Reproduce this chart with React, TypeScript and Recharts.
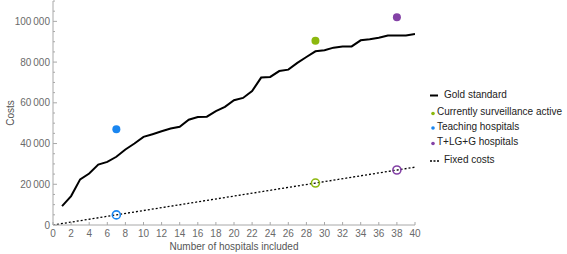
import {
    ComposedChart,
    Line,
    Scatter,
    XAxis,
    YAxis,
} from 'recharts';

// number of hospitals included
const hospitals = [
    1, 2, 3, 4, 5, 6, 7, 8, 9, 10, 11, 12, 13, 14, 15, 16, 17, 18, 19, 20,
    21, 22, 23, 24, 25, 26, 27, 28, 29, 30, 31, 32, 33, 34, 35, 36, 37, 38, 39, 40,
];
const goldCosts = [
    9300, 14200, 22400, 25300, 29700, 31000, 33500, 37100, 40000, 43300,
    44600, 46000, 47400, 48200, 51700, 53000, 53200, 55900, 58000, 61300,
    62400, 65800, 72400, 72700, 75600, 76300, 79600, 82500, 85300, 85800,
    87100, 87600, 87700, 90700, 91200, 92000, 93000, 93000, 93100, 93800,
];

const fixedHospitals = [0, 7, 29, 38, 40];
const fixedCosts = [0, 4970, 20600, 27000, 28400];

const surveillancePoint = { x: 29, total: 90500, fixed: 20600 };
const teachingPoint = { x: 7, total: 47000, fixed: 4970 };
const tlggPoint = { x: 38, total: 102000, fixed: 27000 };

const xTicks = [0, 2, 4, 6, 8, 10, 12, 14, 16, 18, 20, 22, 24, 26, 28, 30, 32, 34, 36, 38, 40];
const yTicks = [
    0, 5000, 10000, 15000, 20000, 25000, 30000, 35000, 40000, 45000, 50000,
    55000, 60000, 65000, 70000, 75000, 80000, 85000, 90000, 95000, 100000, 105000, 110000,
];

const GREEN = '#8cb80e';
const BLUE = '#1a86f0';
const PURPLE = '#8442a6';
const AXIS = '#a8a8a8';
const TICK_TEXT = '#6a6a6a';
const FONT = '"Liberation Sans", Arial, sans-serif';

const goldData = hospitals.map((h, i) => ({ x: h, y: goldCosts[i] }));
const fixedData = fixedHospitals.map((h, i) => ({ x: h, y: fixedCosts[i] }));

const formatThousands = (v: number) =>
    v >= 1000 ? `${Math.floor(v / 1000)}\u2009${String(v % 1000).padStart(3, '0')}` : String(v);

function YTick({ x, y, payload }: any) {
    const v = payload.value as number;
    const major = v % 20000 === 0 && v <= 100000;
    return (
        <g>
            <line x1={x} x2={x + (major ? 4 : 2)} y1={y} y2={y} stroke={AXIS} />
            {major && (
                <text x={x - 3} y={y + 3.5} textAnchor="end" fontSize={10} fill={TICK_TEXT} fontFamily={FONT}>
                    {formatThousands(v)}
                </text>
            )}
        </g>
    );
}

function XTick({ x, y, payload }: any) {
    return (
        <g>
            <line x1={x} x2={x} y1={y} y2={y - 3} stroke={AXIS} />
            <text x={x} y={y + 12} textAnchor="middle" fontSize={10} fill={TICK_TEXT} fontFamily={FONT}>
                {payload.value}
            </text>
        </g>
    );
}

const dot = (color: string) => (p: any) => <circle cx={p.cx} cy={p.cy} r={4} fill={color} />;
const ring = (color: string) => (p: any) =>
    <circle cx={p.cx} cy={p.cy} r={4} fill="none" stroke={color} strokeWidth={1.6} />;

// legend rows: marker kind, text x, row centre y
const legendRows = [
    { label: 'Gold standard', kind: 'line', color: '#000', tx: 444, cy: 94 },
    { label: 'Currently surveillance active', kind: 'dot', color: GREEN, tx: 437, cy: 111.5 },
    { label: 'Teaching hospitals', kind: 'dot', color: BLUE, tx: 437, cy: 126 },
    { label: 'T+LG+G hospitals', kind: 'dot', color: PURPLE, tx: 437, cy: 141.5 },
    { label: 'Fixed costs', kind: 'dash', color: '#000', tx: 444, cy: 159 },
];

function ChartLegend() {
    return (
        <svg width={567} height={254} style={{ position: 'absolute', left: 0, top: 0, pointerEvents: 'none' }}>
            {legendRows.map((r) => (
                <g key={r.label}>
                    {r.kind === 'line' && <line x1={430} x2={438} y1={r.cy + 1.5} y2={r.cy + 1.5} stroke="#000" strokeWidth={2} />}
                    {r.kind === 'dot' && <circle cx={433} cy={r.cy + 2} r={1.8} fill={r.color} />}
                    {r.kind === 'dash' && <line x1={430} x2={440} y1={r.cy + 2} y2={r.cy + 2} stroke="#000" strokeWidth={1.5} strokeDasharray="2 1.5" />}
                    <text x={r.tx} y={r.cy} dominantBaseline="central" fontSize={10} fill="#222" fontFamily={FONT}>
                        {r.label}
                    </text>
                </g>
            ))}
        </svg>
    );
}

export default function App() {
    return (
        <div style={{ position: 'absolute', left: 0, top: 0, width: 567, height: 254, background: '#fff' }}>
            <ComposedChart width={567} height={254} margin={{ top: 1, right: 152, bottom: 0, left: 0 }}>
                <XAxis
                    type="number"
                    dataKey="x"
                    domain={[0, 40]}
                    ticks={xTicks}
                    interval={0}
                    allowDataOverflow
                    height={29}
                    stroke={AXIS}
                    tickLine={false}
                    tickSize={0}
                    tickMargin={0}
                    tick={<XTick />}
                    label={{
                        content: (p: any) => (
                            <text
                                x={p.viewBox.x + p.viewBox.width / 2}
                                y={p.viewBox.y + 25}
                                textAnchor="middle"
                                fontSize={10}
                                fill="#555"
                                fontFamily={FONT}
                            >
                                Number of hospitals included
                            </text>
                        ),
                    }}
                />
                <YAxis
                    type="number"
                    domain={[0, 110000]}
                    ticks={yTicks}
                    interval={0}
                    allowDataOverflow
                    width={53}
                    stroke={AXIS}
                    tickLine={false}
                    tickSize={0}
                    tickMargin={0}
                    tick={<YTick />}
                    label={{
                        content: (p: any) => {
                            const cy = p.viewBox.y + p.viewBox.height / 2;
                            return (
                                <text
                                    x={10}
                                    y={cy}
                                    transform={`rotate(-90 10 ${cy})`}
                                    textAnchor="middle"
                                    dominantBaseline="central"
                                    fontSize={10}
                                    fill="#555"
                                    fontFamily={FONT}
                                >
                                    Costs
                                </text>
                            );
                        },
                    }}
                />
                <Line
                    data={fixedData}
                    dataKey="y"
                    type="linear"
                    stroke="#000"
                    strokeWidth={1.3}
                    strokeDasharray="2 2"
                    dot={false}
                    activeDot={false}
                    isAnimationActive={false}
                />
                <Line
                    data={goldData}
                    dataKey="y"
                    type="linear"
                    stroke="#000"
                    strokeWidth={2}
                    dot={false}
                    activeDot={false}
                    isAnimationActive={false}
                />
                <Scatter data={[{ x: surveillancePoint.x, y: surveillancePoint.total }]} dataKey="y" shape={dot(GREEN)} isAnimationActive={false} />
                <Scatter data={[{ x: teachingPoint.x, y: teachingPoint.total }]} dataKey="y" shape={dot(BLUE)} isAnimationActive={false} />
                <Scatter data={[{ x: tlggPoint.x, y: tlggPoint.total }]} dataKey="y" shape={dot(PURPLE)} isAnimationActive={false} />
                <Scatter data={[{ x: surveillancePoint.x, y: surveillancePoint.fixed }]} dataKey="y" shape={ring(GREEN)} isAnimationActive={false} />
                <Scatter data={[{ x: teachingPoint.x, y: teachingPoint.fixed }]} dataKey="y" shape={ring(BLUE)} isAnimationActive={false} />
                <Scatter data={[{ x: tlggPoint.x, y: tlggPoint.fixed }]} dataKey="y" shape={ring(PURPLE)} isAnimationActive={false} />
            </ComposedChart>
            <ChartLegend />
        </div>
    );
}
